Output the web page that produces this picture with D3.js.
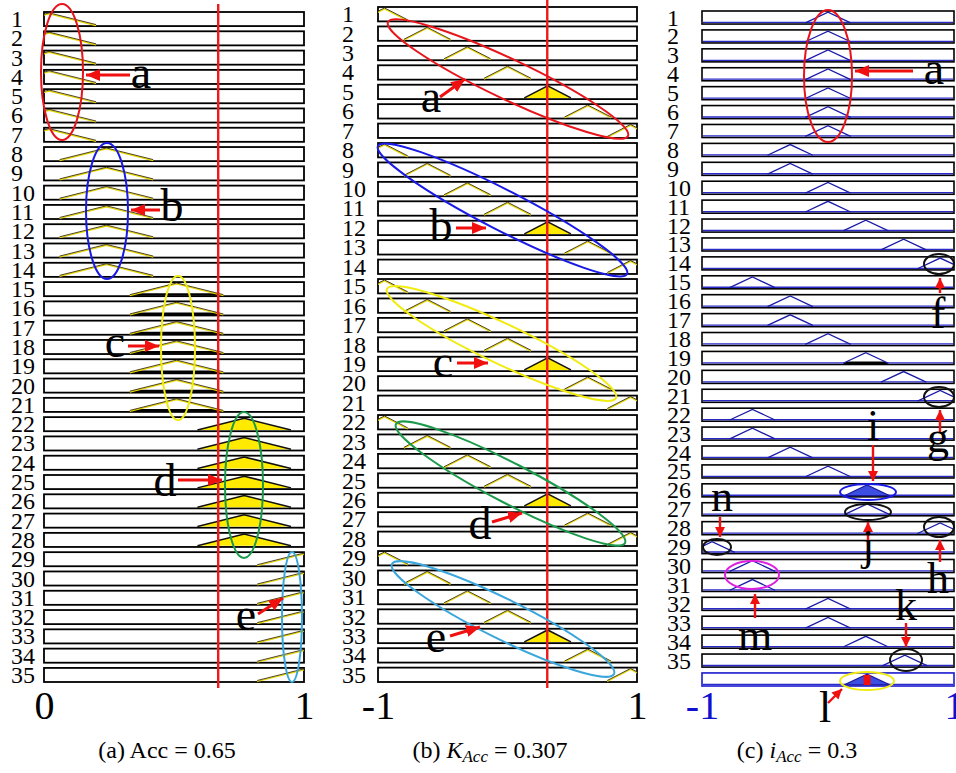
<!DOCTYPE html>
<html><head><meta charset="utf-8">
<script src="https://cdn.jsdelivr.net/npm/d3@7"></script>
<style>body{margin:0;background:#fff}svg{display:block;background:#fff}</style>
</head><body><svg id="chart" width="956" height="773"></svg>
<script>
// ---------------- data ----------------
const rowLabels = ["1","2","3","4","5","6","7","8","9","10","11","12","13","14","15","16","17","18","19","20","21","22","23","24","25","26","27","28","29","30","31","32","33","34","35"];
const rowLabelsC = ["1","2","3","4","5","6","7","8","9","10","11","12","13","14","15","16","17","18","19","20","21","22","23","24","25","26","27","28","29","30","31","32","33","34","35",""];

const peaksA = [0.02,0.02,0.02,0.02,0.02,0.02,0.02,
                0.24,0.24,0.24,0.24,0.24,0.24,0.24,
                0.51,0.51,0.51,0.51,0.51,0.51,0.51,
                0.77,0.77,0.77,0.77,0.77,0.77,0.77,
                1.0,1.0,1.0,1.0,1.0,1.0,1.0];
const kindsA = ["line","line","line","line","line","line","line",
                "line","line","line","line","line","line","line",
                "dark","dark","dark","dark","dark","dark","dark",
                "yellow","yellow","yellow","yellow","yellow","yellow","yellow",
                "line","line","line","line","line","line","line"];

const peaksB = [-0.95,-0.62,-0.31,0,0.31,0.62,0.95,
                -0.95,-0.62,-0.31,0,0.31,0.62,0.95,
                -0.95,-0.62,-0.31,0,0.31,0.62,0.95,
                -0.95,-0.62,-0.31,0,0.31,0.62,0.95,
                -0.95,-0.62,-0.31,0,0.31,0.62,0.95];
const kindsB = ["line","line","line","line","yellow","line","line",
                "line","line","line","line","yellow","line","line",
                "line","line","line","line","yellow","line","line",
                "line","line","line","line","yellow","line","line",
                "line","line","line","line","yellow","line","line"];

const peaksC = [0,0,0,0,0,0,0,
                -0.3,-0.3,0,0,0.3,0.6,0.89,
                -0.6,-0.3,-0.3,0,0.3,0.6,0.89,
                -0.6,-0.6,-0.3,0,0.31,0.31,0.89,
                -0.92,-0.6,-0.6,0,0,0.3,0.61,
                0.31];
const kindsC = ["line","line","line","line","line","line","line",
                "line","line","line","line","line","line","line",
                "line","line","line","line","dark","line","line",
                "line","line","line","line","blue","line","line",
                "line","line","line","line","line","line","line",
                "blue"];

const thresholdA = 0.67;
const thresholdB = 0.307;
const halfWidth = 0.18;
const ticksA = [0, 1];
const ticksBC = [-1, 1];
const captions = [
  {pre:"(a) Acc = 0.65"},
  {pre:"(b) ", it:"K", sub:"Acc", post:" = 0.307"},
  {pre:"(c) ", it:"i", sub:"Acc", post:" = 0.3"}
];

// ---------------- drawing ----------------
const serif = "Liberation Serif";
const svg = d3.select("#chart");
const defs = svg.append("defs");
function marker(id, color, w, h){
  defs.append("marker").attr("id", id).attr("markerUnits","userSpaceOnUse")
    .attr("markerWidth", w).attr("markerHeight", h).attr("refX", w).attr("refY", h/2)
    .attr("orient","auto").attr("viewBox", `0 0 ${w} ${h}`)
    .append("path").attr("d", `M0,0L${w},${h/2}L0,${h}Z`).attr("fill", color);
}
marker("arr", "#f01010", 14, 12);
marker("arrS", "#f01010", 10, 10);

function drawPanel(cfg){
  const x = d3.scaleLinear().domain(cfg.domain).range(cfg.xRange);
  const y = d3.scaleBand().domain(cfg.labels.map((d,i)=>i)).range(cfg.yRange).paddingInner(cfg.pad).paddingOuter(0);
  const g = svg.append("g");
  const clipId = "clip" + cfg.id;
  defs.append("clipPath").attr("id", clipId).append("rect")
    .attr("x", cfg.xRange[0]).attr("y", 0).attr("width", cfg.xRange[1]-cfg.xRange[0]).attr("height", 773);

  const rows = cfg.labels.map((lab,i)=>({lab, i, peak: cfg.peaks[i], kind: cfg.kinds[i]}));
  const bw = y.bandwidth();

  g.selectAll("rect.box").data(rows).join("rect").attr("class","box")
    .attr("x", cfg.xRange[0]).attr("y", d=>y(d.i))
    .attr("width", cfg.xRange[1]-cfg.xRange[0]).attr("height", bw)
    .attr("fill","#fff")
    .attr("stroke", d => (cfg.blueLast && d.i === rows.length-1) ? "#1a1ad0" : "#000")
    .attr("stroke-width", cfg.boxStroke);

  if (cfg.blueBase){
    g.selectAll("line.base").data(rows).join("line").attr("class","base")
      .attr("x1", cfg.xRange[0]+1).attr("x2", cfg.xRange[1]-1)
      .attr("y1", d=>y(d.i)+bw-1.6).attr("y2", d=>y(d.i)+bw-1.6)
      .attr("stroke","#2a2ac8").attr("stroke-width",1.3);
  }

  const tg = g.append("g").attr("clip-path", `url(#${clipId})`);
  rows.forEach(d=>{
    const top = y(d.i)+1.2, bot = y(d.i)+bw-1.2;
    const xl = x(d.peak-halfWidth), xp = x(d.peak), xr = x(d.peak+halfWidth);
    const open = `M${xl},${bot}L${xp},${top}L${xr},${bot}`;
    if (d.kind === "yellow"){
      tg.append("path").attr("d", open+"Z").attr("fill","#ffea00").attr("stroke","none");
      tg.append("path").attr("d", open).attr("fill","none").attr("stroke","#111").attr("stroke-width",1.5);
    } else if (d.kind === "blue"){
      tg.append("path").attr("d", open+"Z").attr("fill","#3d4fe0").attr("stroke","#1a1aa0").attr("stroke-width",1.2);
    } else {
      if (d.kind === "dark"){
        const f = cfg.darkFrac, h = bot-top;
        const xl2 = x(d.peak-halfWidth*(1-f)), xr2 = x(d.peak+halfWidth*(1-f));
        tg.append("path").attr("d", `M${xl},${bot+0.8}L${xl2},${bot-f*h}L${xr2},${bot-f*h}L${xr},${bot+0.8}Z`).attr("fill","#000");
      }
      if (cfg.lineStyle === "olive"){
        tg.append("path").attr("d", open).attr("fill","none").attr("stroke","#e8d800").attr("stroke-width",1.2)
          .attr("transform","translate(0,0.7)");
        tg.append("path").attr("d", open).attr("fill","none").attr("stroke","#3a2e00").attr("stroke-width",0.9)
          .attr("transform","translate(0,-0.3)");
      } else {
        tg.append("path").attr("d", open).attr("fill","none").attr("stroke","#1a1aa8").attr("stroke-width",1.3);
      }
    }
  });

  g.selectAll("text.row").data(rows).join("text").attr("class","row")
    .attr("x", cfg.labelX).attr("y", d=>y(d.i)+bw/2+8)
    .attr("font-family", serif).attr("font-size", 24).attr("fill","#000")
    .attr("text-anchor","start")
    .text(d=>d.lab);

  if (cfg.threshold !== undefined){
    g.append("line").attr("x1", x(cfg.threshold)).attr("x2", x(cfg.threshold))
      .attr("y1", cfg.thrY[0]).attr("y2", cfg.thrY[1])
      .attr("stroke","#f01818").attr("stroke-width",2.4);
  }

  const ax = d3.axisBottom(x).tickValues(cfg.ticks).tickSize(0).tickPadding(0).tickFormat(d=>String(d));
  const axg = svg.append("g").attr("transform","translate(0,719)").call(ax);
  axg.select(".domain").remove();
  axg.selectAll("text").attr("dy", null).attr("y", 0)
    .attr("font-family", serif).attr("font-size", 40).attr("fill", cfg.tickColor);
  return {x, y, g};
}

const A = drawPanel({id:"A", labels: rowLabels, peaks: peaksA, kinds: kindsA, domain:[0,1],
  xRange:[44,304], yRange:[12,682], pad:0.27, boxStroke:1.8, labelX: 11, lineStyle:"olive",
  threshold: thresholdA, thrY:[4,688], ticks: ticksA, tickColor:"#000", darkFrac:0.15});
const B = drawPanel({id:"B", labels: rowLabels, peaks: peaksB, kinds: kindsB, domain:[-1,1],
  xRange:[378,637], yRange:[7,682], pad:0.26, boxStroke:1.8, labelX: 342, lineStyle:"olive",
  threshold: thresholdB, thrY:[0,688], ticks: ticksBC, tickColor:"#000", darkFrac:0.2});
const C = drawPanel({id:"C", labels: rowLabelsC, peaks: peaksC, kinds: kindsC, domain:[-1,1],
  xRange:[702,954], yRange:[11,686], pad:0.31, boxStroke:1.6, labelX: 667, lineStyle:"blue",
  ticks: ticksBC, tickColor:"#1010d0", blueBase:true, blueLast:true, darkFrac:0.16});

{
  const yb = C.y(35), bw = C.y.bandwidth();
  svg.append("rect").attr("x", C.x(0.31)-3.5).attr("y", yb+2).attr("width",7).attr("height", bw-3).attr("fill","#ee1010");
}

// ---------------- annotations ----------------
const ann = svg.append("g");
function ell(cx, cy, rx, ry, color, rot=0, sw=2){
  ann.append("ellipse").attr("cx",cx).attr("cy",cy).attr("rx",rx).attr("ry",ry)
    .attr("fill","none").attr("stroke",color).attr("stroke-width",sw)
    .attr("transform", `rotate(${rot},${cx},${cy})`);
}
function ellPts(x1,y1,x2,y2,ry,color){
  const cx=(x1+x2)/2, cy=(y1+y2)/2, rx=Math.hypot(x2-x1,y2-y1)/2, rot=Math.atan2(y2-y1,x2-x1)*180/Math.PI;
  ell(cx,cy,rx,ry,color,rot);
}
function arrow(x1,y1,x2,y2,small){
  ann.append("line").attr("x1",x1).attr("y1",y1).attr("x2",x2).attr("y2",y2)
    .attr("stroke","#f01010").attr("stroke-width", small?2.4:3)
    .attr("marker-end", small?"url(#arrS)":"url(#arr)");
}
function letter(t, x, y, size=46){
  ann.append("text").attr("x",x).attr("y",y).attr("text-anchor","middle")
    .attr("font-family", serif).attr("font-size", size).attr("fill","#000").text(t);
}

// panel a
ell(62,72,21,68,"#e8141b");  arrow(130,75,86,75); letter("a",141,88);
ell(107,211,21,68,"#1a1ae6"); arrow(160,210,131,210); letter("b",172,221);
ell(178,348,17,72,"#f0ec10"); arrow(128,346,159,346); letter("c",115,357);
ell(244,485,19,73,"#1c9a4c"); arrow(178,480,222,480); letter("d",165,496);
ell(292,617,10,65,"#3aa6dc"); arrow(258,614,283,598); letter("e",246,630);

// panel b
ellPts(388,22,628,136,20,"#e8141b"); arrow(440,97,465,79); letter("a",431,112);
ellPts(378,146,627,274,20,"#1a1ae6"); arrow(456,228,486,228); letter("b",441,241);
ellPts(387,289,616,398,20,"#f0ec10"); arrow(457,363,488,363); letter("c",443,377);
ellPts(396,424,625,543,20,"#1c9a4c"); arrow(492,522,522,513); letter("d",480,539);
ellPts(392,564,614,674,20,"#3aa6dc"); arrow(450,636,480,627); letter("e",436,652);

// panel c
ell(828,76,24,66,"#e8141b"); arrow(913,71,855,71); letter("a",934,84);
ell(939,264,15,10,"#111"); arrow(940,293,940,278,true); letter("f",938,328,44);
ell(939,397,15,10,"#111"); arrow(940,433,940,410,true); letter("g",938,452,44);
ell(868,492,28,8,"#1a1ae6"); arrow(873,445,873,481,true); letter("i",873,440,44);
ell(868,512,23,8,"#111"); arrow(868,545,868,522,true); letter("j",868,560,44);
ell(939,527,15,10,"#111"); arrow(940,562,940,540,true); letter("h",938,593,44);
ell(717,547,14,8,"#111"); arrow(720,517,720,537,true); letter("n",722,511,44);
ell(752,575,27,14,"#e020e0"); arrow(755,618,755,594,true); letter("m",755,650,44);
ell(906,660,16,11,"#111"); arrow(906,623,906,647,true); letter("k",906,620,44);
ell(867,681,27,9,"#f0ec10"); arrow(828,703,842,689,true); letter("l",825,722,44);

// captions
const capX = [167, 490, 797];
captions.forEach((c,i)=>{
  const t = svg.append("text").attr("x", capX[i]).attr("y", 758).attr("text-anchor","middle")
    .attr("font-family", serif).attr("font-size", 24).attr("fill","#000");
  t.append("tspan").text(c.pre);
  if (c.it){
    t.append("tspan").attr("font-style","italic").text(c.it);
    t.append("tspan").attr("font-style","italic").attr("font-size",17).attr("dy",4).text(c.sub);
    t.append("tspan").attr("dy",-4).text(c.post);
  }
});
</script>
</body></html>
